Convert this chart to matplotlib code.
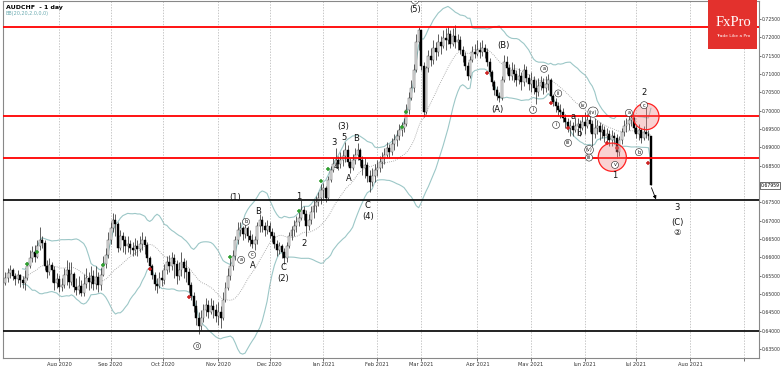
import matplotlib
matplotlib.use("Agg")
import matplotlib.pyplot as plt
import matplotlib.transforms as mtransforms
from matplotlib.patches import Ellipse, Rectangle
import numpy as np
import pandas as pd

# daily AUDCHF candles (price, 4 d.p.)
closes = [
    0.6544, 0.6558, 0.6566, 0.6549, 0.6541, 0.6552, 0.6538, 0.6530, 0.6544, 0.6577,
    0.6598, 0.6615, 0.6601, 0.6631, 0.6648, 0.6639, 0.6577, 0.6560, 0.6579, 0.6566,
    0.6530, 0.6541, 0.6519, 0.6525, 0.6552, 0.6566, 0.6533, 0.6555, 0.6519, 0.6511,
    0.6522, 0.6503, 0.6528, 0.6544, 0.6533, 0.6549, 0.6528, 0.6547, 0.6525, 0.6552,
    0.6582, 0.6607, 0.6648, 0.6680, 0.6702, 0.6691, 0.6626, 0.6658, 0.6648, 0.6631,
    0.6637, 0.6626, 0.6620, 0.6631, 0.6623, 0.6637, 0.6648, 0.6634, 0.6598, 0.6577,
    0.6552, 0.6528, 0.6522, 0.6544, 0.6538, 0.6566, 0.6588, 0.6577, 0.6598, 0.6582,
    0.6549, 0.6566, 0.6588, 0.6571, 0.6560, 0.6525, 0.6495, 0.6468, 0.6435, 0.6413,
    0.6435, 0.6457, 0.6470, 0.6451, 0.6468, 0.6457, 0.6440, 0.6451, 0.6435, 0.6484,
    0.6517, 0.6549, 0.6577, 0.6604, 0.6648, 0.6675, 0.6680, 0.6664, 0.6680, 0.6658,
    0.6648, 0.6637, 0.6648, 0.6686, 0.6702, 0.6686, 0.6675, 0.6686, 0.6669, 0.6658,
    0.6637, 0.6620, 0.6631, 0.6615, 0.6598, 0.6631, 0.6658, 0.6675, 0.6686, 0.6697,
    0.6708, 0.6729, 0.6718, 0.6686, 0.6702, 0.6724, 0.6740, 0.6751, 0.6762, 0.6784,
    0.6789, 0.6762, 0.6811, 0.6838, 0.6855, 0.6866, 0.6855, 0.6866, 0.6877, 0.6893,
    0.6860, 0.6844, 0.6866, 0.6879, 0.6893, 0.6866, 0.6844, 0.6852, 0.6822, 0.6806,
    0.6822, 0.6838, 0.6844, 0.6860, 0.6871, 0.6879, 0.6898, 0.6887, 0.6909, 0.6920,
    0.6931, 0.6947, 0.6953, 0.6964, 0.7002, 0.7035, 0.7062, 0.7111, 0.7187, 0.7220,
    0.7122, 0.6997, 0.7117, 0.7149, 0.7138, 0.7171, 0.7160, 0.7187, 0.7177, 0.7198,
    0.7193, 0.7209, 0.7182, 0.7204, 0.7187, 0.7193, 0.7166, 0.7149, 0.7122, 0.7095,
    0.7138, 0.7160, 0.7155, 0.7166, 0.7160, 0.7171, 0.7160, 0.7133, 0.7106, 0.7078,
    0.7057, 0.7040, 0.7035, 0.7084, 0.7133, 0.7117, 0.7095, 0.7111, 0.7100, 0.7084,
    0.7095, 0.7078, 0.7111, 0.7089, 0.7073, 0.7084, 0.7062, 0.7051, 0.7067, 0.7078,
    0.7062, 0.7073, 0.7084, 0.7040, 0.7024, 0.7013, 0.7002, 0.6997, 0.6980, 0.6969,
    0.6953, 0.6958, 0.6947, 0.6958, 0.6964, 0.6953, 0.6969, 0.6958, 0.6975, 0.6964,
    0.6937, 0.6953, 0.6958, 0.6942, 0.6947, 0.6931, 0.6937, 0.6920, 0.6931, 0.6926,
    0.6887, 0.6920, 0.6942, 0.6958, 0.6964, 0.6975, 0.6980, 0.6953, 0.6937, 0.6947,
    0.6926, 0.6942, 0.6937, 0.6931, 0.6796,
]
highs = [
    0.6560, 0.6571, 0.6579, 0.6571, 0.6558, 0.6566, 0.6555, 0.6549, 0.6566, 0.6588,
    0.6620, 0.6631, 0.6634, 0.6648, 0.6683, 0.6658, 0.6648, 0.6593, 0.6598, 0.6588,
    0.6577, 0.6558, 0.6552, 0.6544, 0.6571, 0.6593, 0.6588, 0.6588, 0.6560, 0.6544,
    0.6549, 0.6538, 0.6555, 0.6571, 0.6560, 0.6577, 0.6566, 0.6577, 0.6560, 0.6571,
    0.6604, 0.6626, 0.6669, 0.6697, 0.6721, 0.6718, 0.6697, 0.6675, 0.6669, 0.6658,
    0.6658, 0.6648, 0.6642, 0.6653, 0.6648, 0.6658, 0.6669, 0.6658, 0.6642, 0.6604,
    0.6582, 0.6560, 0.6544, 0.6560, 0.6566, 0.6582, 0.6604, 0.6607, 0.6615, 0.6609,
    0.6593, 0.6588, 0.6615, 0.6598, 0.6593, 0.6571, 0.6533, 0.6506, 0.6484, 0.6451,
    0.6457, 0.6473, 0.6489, 0.6484, 0.6489, 0.6484, 0.6473, 0.6478, 0.6468, 0.6506,
    0.6533, 0.6571, 0.6598, 0.6620, 0.6658, 0.6697, 0.6697, 0.6686, 0.6697, 0.6686,
    0.6675, 0.6664, 0.6658, 0.6697, 0.6718, 0.6713, 0.6697, 0.6702, 0.6697, 0.6680,
    0.6669, 0.6648, 0.6642, 0.6637, 0.6626, 0.6642, 0.6669, 0.6686, 0.6702, 0.6713,
    0.6724, 0.6757, 0.6740, 0.6729, 0.6718, 0.6740, 0.6757, 0.6768, 0.6778, 0.6800,
    0.6803, 0.6795, 0.6822, 0.6849, 0.6871, 0.6898, 0.6877, 0.6887, 0.6893, 0.6915,
    0.6907, 0.6871, 0.6882, 0.6898, 0.6912, 0.6898, 0.6877, 0.6871, 0.6860, 0.6838,
    0.6844, 0.6855, 0.6866, 0.6877, 0.6887, 0.6898, 0.6915, 0.6909, 0.6926, 0.6937,
    0.6947, 0.6964, 0.6969, 0.6980, 0.7018, 0.7051, 0.7084, 0.7127, 0.7209, 0.7228,
    0.7220, 0.7133, 0.7122, 0.7166, 0.7171, 0.7193, 0.7187, 0.7209, 0.7204, 0.7220,
    0.7226, 0.7231, 0.7220, 0.7226, 0.7234, 0.7209, 0.7204, 0.7177, 0.7160, 0.7133,
    0.7149, 0.7177, 0.7182, 0.7193, 0.7187, 0.7193, 0.7182, 0.7171, 0.7144, 0.7111,
    0.7084, 0.7067, 0.7051, 0.7095, 0.7152, 0.7149, 0.7127, 0.7133, 0.7127, 0.7111,
    0.7117, 0.7106, 0.7127, 0.7122, 0.7100, 0.7106, 0.7095, 0.7084, 0.7089, 0.7095,
    0.7089, 0.7095, 0.7100, 0.7089, 0.7046, 0.7035, 0.7024, 0.7018, 0.7007, 0.6991,
    0.6980, 0.6975, 0.6969, 0.6980, 0.6980, 0.6975, 0.6986, 0.6997, 0.6991, 0.6986,
    0.6975, 0.6980, 0.6975, 0.6969, 0.6964, 0.6958, 0.6953, 0.6947, 0.6947, 0.6942,
    0.6937, 0.6931, 0.6953, 0.6975, 0.6980, 0.6991, 0.6994, 0.6986, 0.6964, 0.6964,
    0.6953, 0.6958, 0.7016, 0.6947, 0.6931,
]
lows = [
    0.6525, 0.6533, 0.6544, 0.6538, 0.6525, 0.6530, 0.6519, 0.6517, 0.6511, 0.6538,
    0.6571, 0.6588, 0.6588, 0.6598, 0.6620, 0.6626, 0.6566, 0.6544, 0.6552, 0.6533,
    0.6511, 0.6517, 0.6506, 0.6508, 0.6517, 0.6525, 0.6517, 0.6525, 0.6506, 0.6498,
    0.6500, 0.6495, 0.6495, 0.6517, 0.6511, 0.6517, 0.6511, 0.6514, 0.6506, 0.6511,
    0.6549, 0.6571, 0.6598, 0.6637, 0.6669, 0.6658, 0.6615, 0.6620, 0.6615, 0.6609,
    0.6615, 0.6609, 0.6604, 0.6607, 0.6604, 0.6615, 0.6620, 0.6609, 0.6588, 0.6566,
    0.6541, 0.6511, 0.6503, 0.6517, 0.6522, 0.6528, 0.6555, 0.6560, 0.6566, 0.6544,
    0.6528, 0.6538, 0.6549, 0.6544, 0.6533, 0.6506, 0.6484, 0.6451, 0.6416, 0.6391,
    0.6402, 0.6424, 0.6440, 0.6435, 0.6446, 0.6435, 0.6424, 0.6416, 0.6408, 0.6429,
    0.6478, 0.6511, 0.6538, 0.6566, 0.6593, 0.6637, 0.6658, 0.6648, 0.6653, 0.6642,
    0.6631, 0.6626, 0.6620, 0.6637, 0.6669, 0.6669, 0.6658, 0.6664, 0.6653, 0.6642,
    0.6626, 0.6604, 0.6609, 0.6598, 0.6582, 0.6588, 0.6626, 0.6648, 0.6658, 0.6669,
    0.6686, 0.6702, 0.6702, 0.6658, 0.6675, 0.6691, 0.6708, 0.6724, 0.6740, 0.6746,
    0.6757, 0.6751, 0.6757, 0.6806, 0.6833, 0.6844, 0.6838, 0.6844, 0.6849, 0.6860,
    0.6849, 0.6830, 0.6838, 0.6855, 0.6866, 0.6849, 0.6825, 0.6817, 0.6806, 0.6778,
    0.6795, 0.6806, 0.6822, 0.6833, 0.6844, 0.6855, 0.6871, 0.6871, 0.6879, 0.6893,
    0.6904, 0.6920, 0.6931, 0.6942, 0.6958, 0.6991, 0.7029, 0.7051, 0.7106, 0.7166,
    0.7111, 0.6983, 0.6991, 0.7106, 0.7122, 0.7127, 0.7138, 0.7149, 0.7155, 0.7171,
    0.7166, 0.7182, 0.7171, 0.7177, 0.7171, 0.7166, 0.7155, 0.7133, 0.7111, 0.7084,
    0.7089, 0.7133, 0.7144, 0.7149, 0.7144, 0.7149, 0.7144, 0.7122, 0.7095, 0.7067,
    0.7043, 0.7029, 0.7024, 0.7029, 0.7078, 0.7100, 0.7084, 0.7084, 0.7078, 0.7067,
    0.7073, 0.7057, 0.7067, 0.7078, 0.7057, 0.7051, 0.7046, 0.7018, 0.7040, 0.7057,
    0.7046, 0.7051, 0.7057, 0.7029, 0.7013, 0.6997, 0.6986, 0.6980, 0.6969, 0.6953,
    0.6942, 0.6931, 0.6931, 0.6942, 0.6937, 0.6931, 0.6947, 0.6937, 0.6953, 0.6942,
    0.6904, 0.6926, 0.6937, 0.6920, 0.6926, 0.6915, 0.6909, 0.6904, 0.6904, 0.6909,
    0.6871, 0.6877, 0.6909, 0.6931, 0.6942, 0.6947, 0.6958, 0.6942, 0.6926, 0.6920,
    0.6912, 0.6920, 0.6926, 0.6920, 0.6796,
]
first_open = 0.6530

month_pos = [22, 43, 64.5, 87, 108, 130, 152, 170, 193, 215, 237, 258, 280, 302]
month_labels = ["Aug 2020", "Sep 2020", "Oct 2020", "Nov 2020", "Dec 2020", "Jan 2021",
                "Feb 2021", "Mar 2021", "Apr 2021", "May 2021", "Jun 2021", "Jul 2021",
                "Aug 2021", ""]

red_levels = [0.7228, 0.6985, 0.6870]
black_levels = [0.6756, 0.6398]
last_price = 0.67959

# wave labels: (text, bar, price, circled)
wave_labels = [
    ("(1)", 94, 0.6762, False), ("b", 98.4, 0.6697, True), ("a", 96.4, 0.6593, True),
    ("c", 100.9, 0.6607, True), ("A", 101.3, 0.6577, False), ("B", 103.3, 0.6726, False),
    ("C", 113.5, 0.6571, False), ("(2)", 113.5, 0.6541, False), ("1", 120, 0.6767, False),
    ("2", 122.1, 0.6639, False), ("3", 134.4, 0.6912, False), ("4", 135.2, 0.6849, False),
    ("5", 138.5, 0.6928, False), ("(3)", 138, 0.6958, False), ("A", 140.5, 0.6814, False),
    ("B", 143.4, 0.6925, False), ("C", 147.9, 0.6740, False), ("(4)", 148.3, 0.6710, False),
    ("(5)", 167.5, 0.7275, False), ("5", 167.5, 0.7300, True), ("0", 78.4, 0.6358, True),
    ("(B)", 203.5, 0.7179, False), ("(A)", 201.1, 0.7002, False),
    ("a", 220.3, 0.7114, True), ("i", 215.8, 0.7002, True), ("ii", 226.1, 0.7047, True),
    ("i", 225.2, 0.6961, True), ("iii", 230.1, 0.6912, True), ("iv", 236.2, 0.7015, True),
    ("(iv)", 240.3, 0.6996, True), ("b", 234.6, 0.6939, False), ("a", 232.2, 0.6984, False),
    ("(v)", 238.7, 0.6893, True), ("iii", 238.7, 0.6872, True), ("v", 249.3, 0.6852, True),
    ("1", 249.3, 0.6823, False), ("a", 255, 0.6994, True), ("b", 259.1, 0.6887, True),
    ("c", 261.2, 0.7015, True), ("2", 261.2, 0.7050, False), ("3", 274.7, 0.6737, False),
    ("(C)", 274.7, 0.6696, False), ("\u2461", 274.7, 0.6668, False),
]

green_x = [9, 13, 40, 92, 120, 129, 132, 162, 164]
green_y = [0.6582, 0.6615, 0.6579, 0.6601, 0.6726, 0.6808, 0.6841, 0.6955, 0.6996]
red_x = [59, 75, 197, 223, 230, 246, 250, 263]
red_y = [0.6568, 0.6492, 0.7103, 0.7021, 0.6953, 0.6912, 0.6898, 0.6857]

c = np.array(closes)
h = np.array(highs)
l = np.array(lows)
o = np.concatenate([[first_open], c[:-1]])
x = np.arange(len(c))

s = pd.Series(c)
mid = s.rolling(20, min_periods=8).mean()
sd = s.rolling(20, min_periods=8).std(ddof=0)
upper = mid + 2 * sd
lower = mid - 2 * sd

fig = plt.figure(figsize=(7.82, 3.66), dpi=100)
ax = fig.add_axes([3 / 782, 8 / 366, 756 / 782, 357 / 366])
ax.set_xlim(-1, 308.2)
ax.set_ylim(0.63255, 0.7299)

ax.plot(x, upper, color="#9cc7c7", lw=0.8, zorder=1)
ax.plot(x, lower, color="#9cc7c7", lw=0.8, zorder=1)
ax.plot(x, mid, color="#999999", lw=0.6, ls=(0, (1, 1.5)), zorder=1)

ax.vlines(x, l, h, color="#333333", lw=0.55, zorder=2)
up = c >= o
ax.bar(x[up], (c - o)[up], bottom=o[up], width=0.8, color="#e8e8e8",
       edgecolor="#444444", linewidth=0.3, zorder=3)
ax.bar(x[~up], (o - c)[~up], bottom=c[~up], width=0.8, color="black",
       edgecolor="black", linewidth=0.3, zorder=3)

for lv in red_levels:
    ax.axhline(lv, color="#ff0000", lw=1.3, zorder=4)
for lv in black_levels:
    ax.axhline(lv, color="#111111", lw=1.3, zorder=4)

ax.plot(green_x, green_y, "+", color="#2e9e2e", ms=3.5, mew=1.1, zorder=5)
ax.plot(red_x, red_y, "+", color="#cc2222", ms=3.5, mew=1.1, zorder=5)

ax.add_patch(Ellipse((248.2, 0.6873), 11.5, 0.0077, facecolor="#f08080", alpha=0.35,
                     edgecolor="none", zorder=6))
ax.add_patch(Ellipse((248.2, 0.6873), 11.5, 0.0077, facecolor="none",
                     edgecolor="#ff2020", lw=0.9, zorder=6))
ax.add_patch(Ellipse((262, 0.6984), 10.6, 0.0072, facecolor="#f08080", alpha=0.35,
                     edgecolor="none", zorder=6))
ax.add_patch(Ellipse((262, 0.6984), 10.6, 0.0072, facecolor="none",
                     edgecolor="#ff2020", lw=0.9, zorder=6))

for txt, bx, py, circ in wave_labels:
    if circ:
        ax.text(bx, py, txt, ha="center", va="center", fontsize=3.6, color="#111111",
                zorder=7, clip_on=True,
                bbox=dict(boxstyle="circle,pad=0.2", fc="white", ec="#222222", lw=0.4))
    else:
        ax.text(bx, py, txt, ha="center", va="center", fontsize=6, color="#111111",
                zorder=7, clip_on=True)

ax.annotate("", xy=(266.5, 0.6751), xytext=(263.8, 0.6797),
            arrowprops=dict(arrowstyle="-|>", lw=0.6, color="black", mutation_scale=5),
            zorder=7)

yt = [v / 1000 for v in range(635, 726, 5) if v != 680]
ax.yaxis.tick_right()
ax.set_yticks(yt)
ax.set_yticklabels([f"{v:.5f}" for v in yt])
ax.set_xticks(month_pos)
ax.set_xticklabels(month_labels)
ax.tick_params(axis="both", labelsize=3.7, length=2, width=0.5, pad=1, colors="#333333",
               direction="out")
ax.tick_params(axis="y", labelsize=3.3, length=1.5, pad=0.6)
ax.grid(axis="x", color="#b0b0b0", ls=(0, (2, 2)), lw=0.5)
for sp in ax.spines.values():
    sp.set_color("#888888")
    sp.set_linewidth(0.8)

trans = mtransforms.blended_transform_factory(ax.transAxes, ax.transData)
ax.text(1.002, last_price, f"{last_price:.5f}", transform=trans, fontsize=3.3,
        va="center", ha="left", clip_on=False,
        bbox=dict(boxstyle="square,pad=0.12", fc="white", ec="black", lw=0.4))

fig.text(6 / 782, 1 - 7 / 366, "AUDCHF  - 1 day", fontsize=4.5, fontweight="bold",
         va="center", ha="left")
fig.text(6 / 782, 1 - 13 / 366, "BB(20,20,2.0,0,0)", fontsize=3.5, color="#6aaab0",
         va="center", ha="left")

fig.patches.append(Rectangle((708 / 782, 1 - 49 / 366), 49 / 782, 49 / 366,
                             transform=fig.transFigure, facecolor="#e3312d",
                             edgecolor="none", zorder=10))
fig.text(733 / 782, 1 - 22 / 366, "FxPro", fontsize=10.5, family="Liberation Serif",
         color="white", ha="center", va="center", zorder=11)
fig.text(733 / 782, 1 - 36 / 366, "Trade Like a Pro", fontsize=3.2, color="white",
         ha="center", va="center", zorder=11)

fig.savefig("out.png", dpi=100)
